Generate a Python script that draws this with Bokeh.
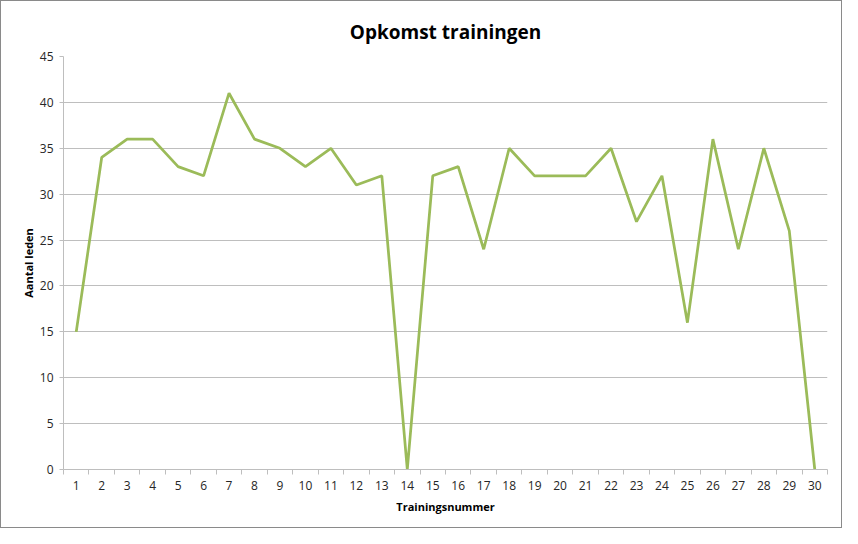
from bokeh.plotting import figure
from bokeh.models import FixedTicker, Range1d
from bokeh.embed import file_html
from bokeh.resources import INLINE

trainingen = list(range(1, 31))
opkomst = [15, 34, 36, 36, 33, 32, 41, 36, 35, 33, 35, 31, 32, 0, 32,
           33, 24, 35, 32, 32, 32, 35, 27, 32, 16, 36, 24, 35, 26, 0]
y_ticks = list(range(0, 46, 5))

FONT = "Open Sans"
TXT = "#262626"
GRID = "#bebebe"

p = figure(width=842, height=528, output_backend="svg", toolbar_location=None,
           x_range=Range1d(0.5, 30.5), y_range=Range1d(0, 45),
           min_border_left=62, min_border_right=16, min_border_top=55, min_border_bottom=60)
p.styles = {"border": "1.5px solid #8a8a8a", "box-sizing": "border-box"}

p.title.text = "Opkomst trainingen"
p.title.align = "center"
p.title.text_font = FONT
p.title.text_font_size = "19px"
p.title.text_font_style = "bold"
p.title.text_color = "#000000"
p.title.offset = 0
p.title.standoff = 23

p.outline_line_color = None
p.background_fill_color = "white"
p.border_fill_color = "white"

p.line(trainingen, opkomst, line_color="#9bbb59", line_width=2.75)

p.xaxis.ticker = FixedTicker(ticks=trainingen, minor_ticks=[i + 0.5 for i in range(0, 31)])
p.xaxis.major_tick_line_color = None
p.xaxis.minor_tick_line_color = GRID
p.xaxis.minor_tick_out = 5
p.xaxis.minor_tick_in = 0
p.xaxis.axis_line_color = GRID
p.xaxis.major_label_standoff = 5
p.xaxis.axis_label = "Trainingsnummer"
p.xaxis.axis_label_standoff = 6

p.yaxis.ticker = FixedTicker(ticks=y_ticks)
p.yaxis.minor_tick_line_color = None
p.yaxis.major_tick_line_color = GRID
p.yaxis.major_tick_out = 4
p.yaxis.major_tick_in = 0
p.yaxis.axis_line_color = GRID
p.yaxis.major_label_standoff = 6
p.yaxis.axis_label = "Aantal leden"
p.yaxis.axis_label_standoff = 1

for ax in (p.xaxis, p.yaxis):
    ax.major_label_text_font = FONT
    ax.major_label_text_font_size = "12px"
    ax.major_label_text_color = TXT
    ax.axis_label_text_font = FONT
    ax.axis_label_text_font_size = "11px"
    ax.axis_label_text_font_style = "bold"
    ax.axis_label_text_color = "#000000"

p.xgrid.grid_line_color = None
p.ygrid.ticker = FixedTicker(ticks=y_ticks)
p.ygrid.grid_line_color = GRID
p.ygrid.grid_line_width = 1

open("out.html", "w").write(file_html(p, INLINE))
